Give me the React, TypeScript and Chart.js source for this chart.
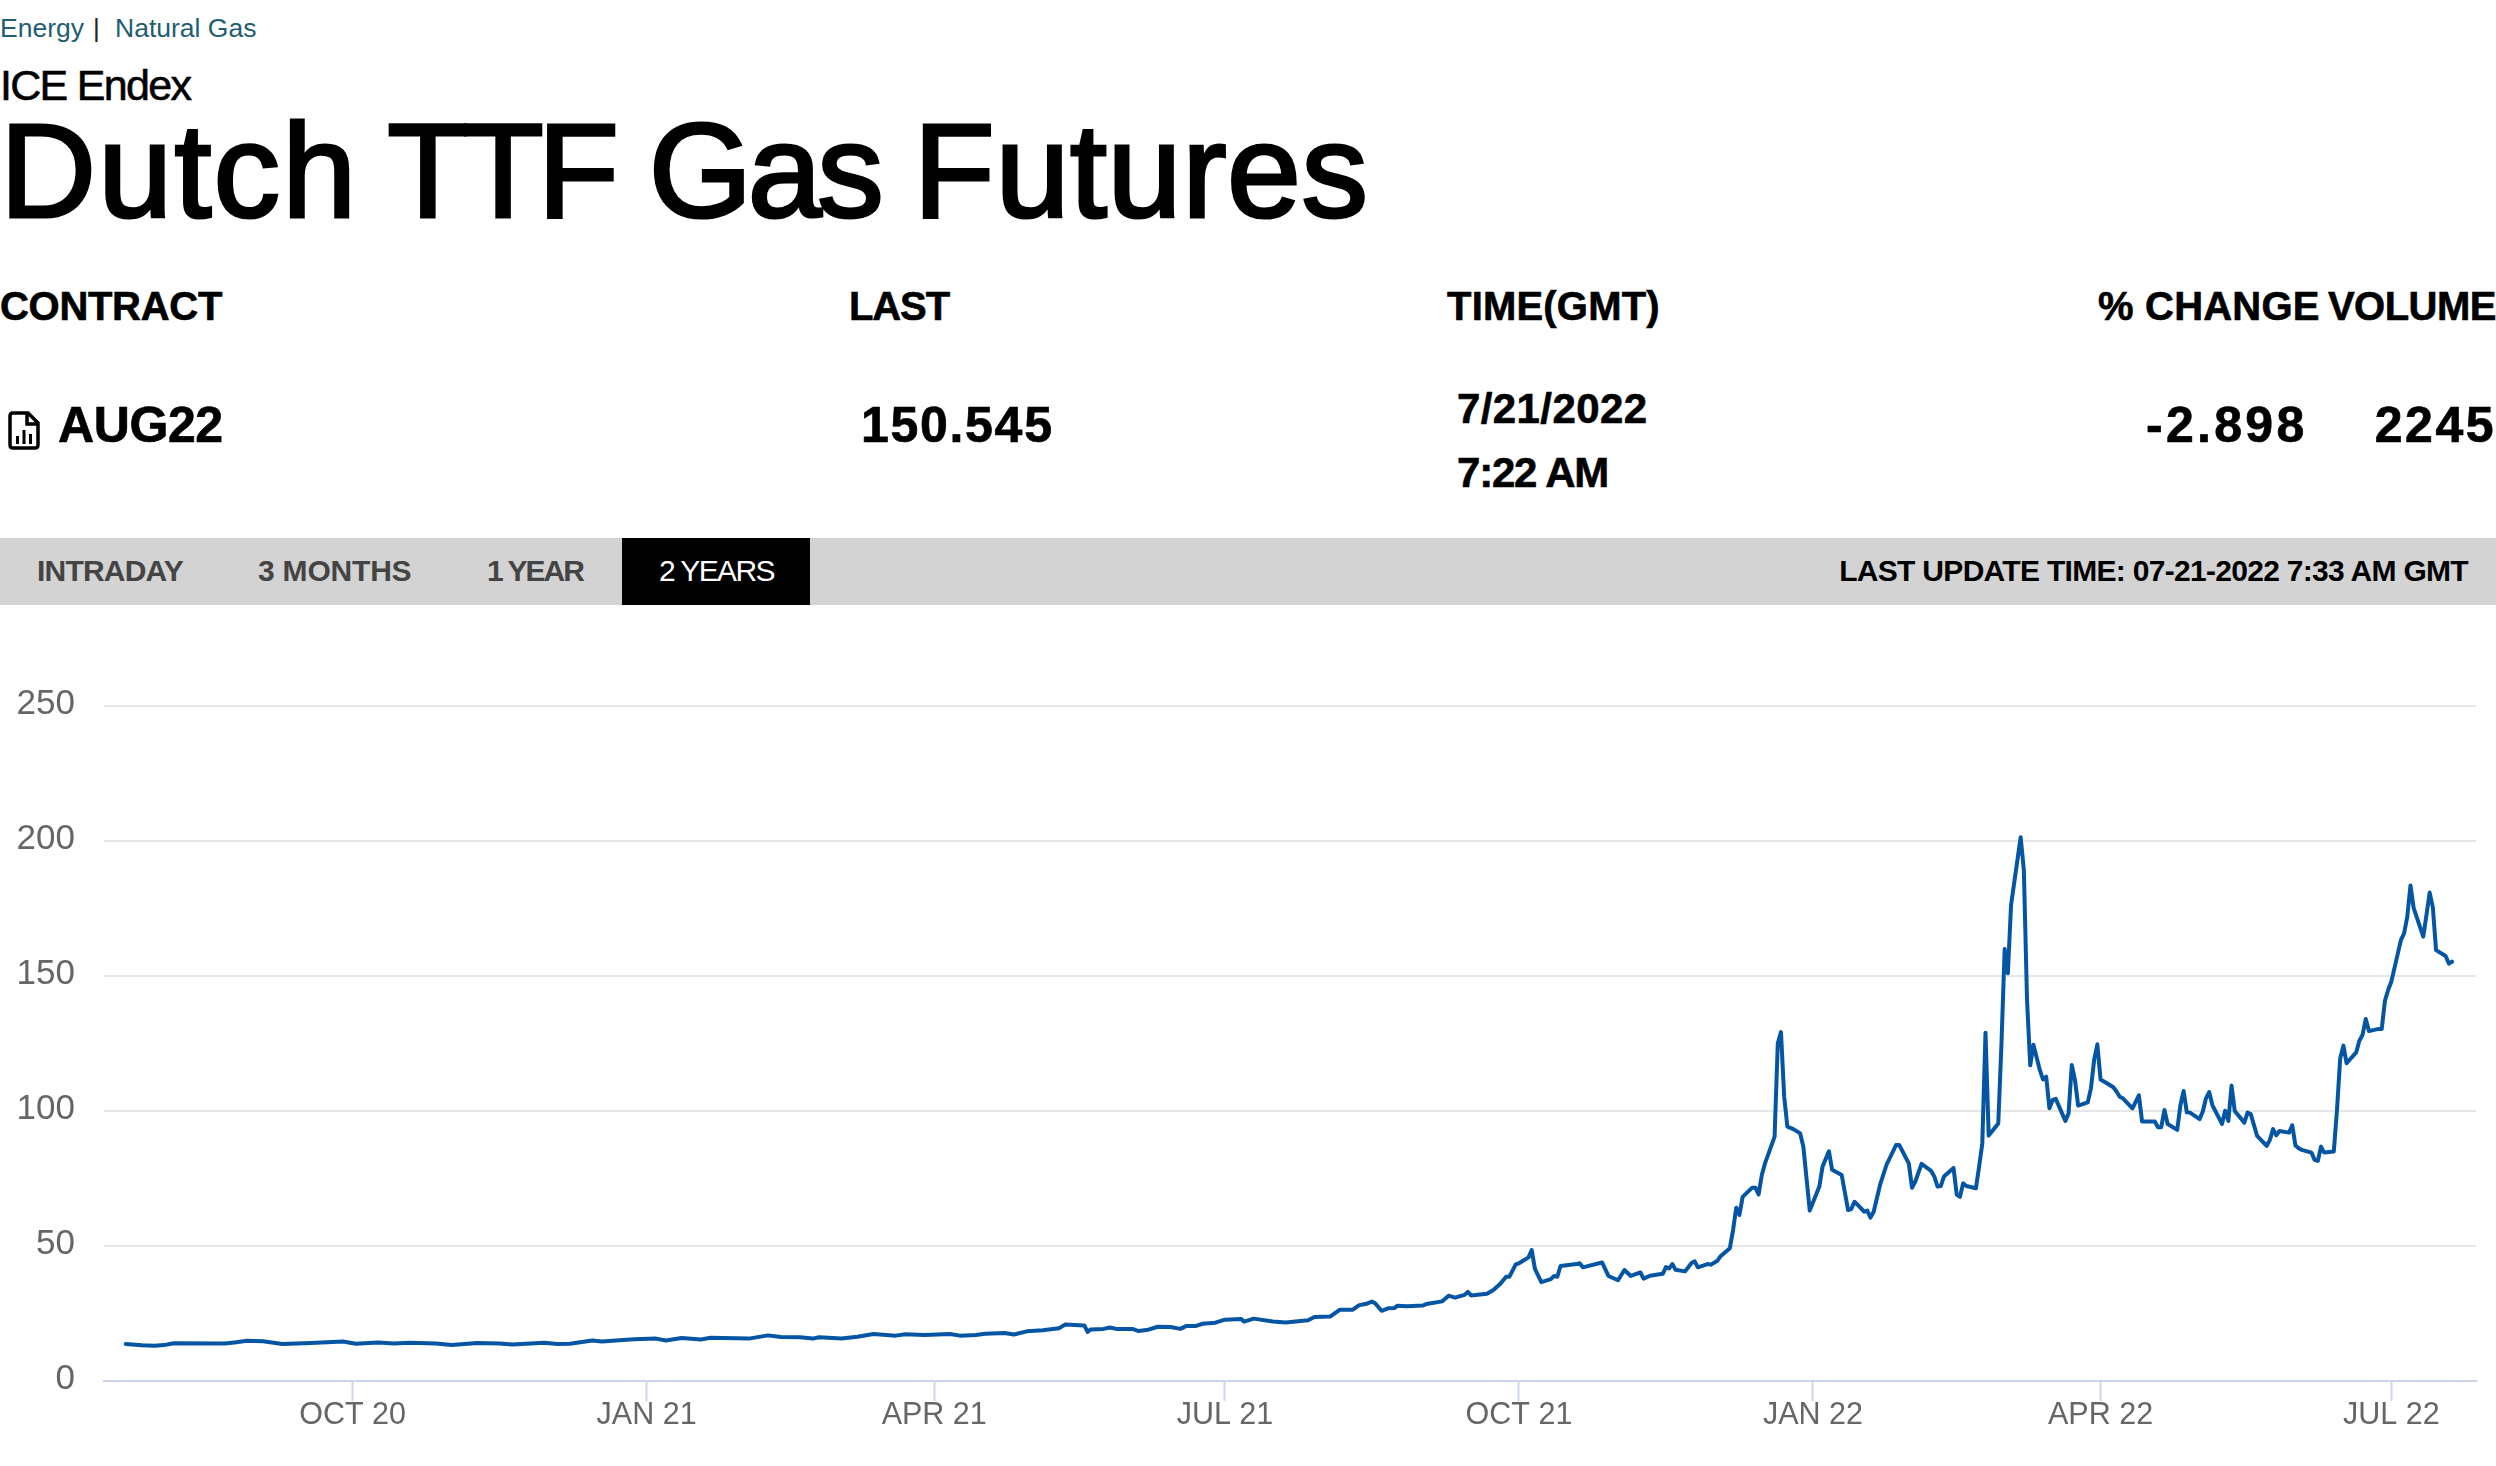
import React, { useEffect, useRef } from "react";
import { Chart, registerables } from "chart.js";

Chart.register(...registerables);

const breadcrumb = ["Energy", "Natural Gas"];
const exchange = "ICE Endex";
const titleWords = ["Dutch", "TTF", "Gas", "Futures"];
const tabs = ["INTRADAY", "3 MONTHS", "1 YEAR", "2 YEARS"];
const lastUpdate = "LAST UPDATE TIME: 07-21-2022 7:33 AM GMT";

// Days since 1 Oct 2020
const days = [
  -71, -66, -62, -59, -56, -40, -37, -33, -28, -22, -13, -3, 1, 8, 13, 18, 26, 31, 36, 39, 46, 50, 60, 64, 68, 75, 78, 88, 95, 98,
  103, 109, 112, 124, 130, 134, 140, 144, 146, 153, 158, 163, 170, 173, 179, 187, 190, 195, 198, 204, 207, 211, 216, 221, 223, 229, 230, 231, 235, 237,
  239, 244, 246, 249, 252, 256, 259, 261, 264, 266, 270, 273, 278, 279, 282, 288, 292, 299, 301, 306, 309, 313, 315, 317, 319, 320, 322, 324, 326, 327,
  330, 335, 336, 341, 343, 345, 348, 349, 350, 355, 357, 359, 361, 362, 364, 365, 368, 369, 370, 372, 375, 376, 377, 378, 383, 384, 385, 391, 393, 396,
  398, 400, 403, 404, 406, 410, 411, 412, 413, 414, 417, 419, 420, 421, 424, 425, 427, 428, 431, 432, 433, 434, 435, 438, 439, 440, 441, 442, 445, 446,
  447, 448, 449, 451, 453, 454, 456, 459, 460, 462, 463, 466, 468, 469, 470, 472, 473, 474, 475, 476, 478, 480, 483, 484, 487, 488, 489, 491, 494, 495,
  496, 497, 498, 501, 502, 503, 504, 505, 508, 509, 510, 511, 512, 515, 516, 517, 518, 519, 522, 523, 524, 525, 526, 528, 529, 530, 531, 532, 533, 536,
  537, 538, 539, 540, 543, 544, 545, 546, 547, 549, 551, 552, 553, 554, 557, 559, 560, 564, 565, 566, 567, 568, 571, 572, 573, 574, 575, 578, 579, 580,
  581, 582, 585, 586, 587, 588, 589, 592, 593, 594, 596, 599, 600, 601, 602, 603, 606, 607, 608, 609, 610, 613, 614, 615, 616, 617, 620, 621, 622, 623,
  624, 627, 628, 629, 630, 631, 634, 635, 636, 637, 638, 641, 642, 643, 644, 645, 648, 649, 650, 651, 652, 655, 656, 657,
];

const prices = [
  13.7, 13.2, 13.1, 13.3, 14.0, 13.9, 14.3, 14.9, 14.7, 13.7, 14.1, 14.6, 13.8, 14.3, 13.9, 14.2, 13.9, 13.3, 13.8, 14.1, 13.9, 13.5, 14.2, 13.7, 13.8, 15.0, 14.6, 15.5, 15.7, 15.0,
  15.9, 15.4, 16.0, 15.7, 16.9, 16.3, 16.2, 15.7, 16.2, 15.7, 16.4, 17.4, 16.8, 17.3, 17.0, 17.4, 16.8, 17.0, 17.5, 17.8, 17.2, 18.4, 18.8, 19.5, 20.9, 20.6, 18.2, 19.1, 19.3, 19.8,
  19.3, 19.3, 18.5, 19.0, 20.1, 20.0, 19.3, 20.4, 20.4, 21.2, 21.6, 22.7, 23.0, 22.0, 23.1, 22.0, 21.7, 22.5, 23.7, 23.9, 26.4, 26.4, 28.1, 28.5, 29.4, 28.8, 26.0, 26.9, 27.0, 27.9,
  27.7, 28.0, 28.5, 29.5, 31.6, 30.9, 31.9, 33.0, 31.7, 32.3, 33.7, 35.8, 38.6, 38.6, 43.2, 43.6, 45.8, 48.5, 41.5, 36.6, 37.7, 38.9, 38.6, 42.6, 43.3, 43.6, 42.1, 43.9, 38.9, 37.3,
  41.1, 38.9, 40.2, 37.9, 39.0, 39.7, 42.2, 41.7, 43.3, 41.2, 40.6, 43.7, 44.3, 42.1, 43.3, 43.1, 44.4, 46.1, 49.2, 55.9, 64.2, 61.5, 68.2, 71.6, 71.6, 69.1, 76.3, 80.6, 90.5, 125.1,
  129.2, 105.3, 94.2, 93.2, 91.7, 86.8, 63.1, 72.0, 79.4, 85.1, 78.2, 76.3, 63.3, 63.7, 66.4, 64.0, 62.7, 63.1, 60.5, 62.7, 72.6, 80.0, 87.4, 87.4, 80.6, 71.6, 73.8, 80.4, 77.8, 75.7,
  72.0, 72.2, 75.7, 78.9, 69.0, 68.2, 73.2, 72.2, 71.4, 79.4, 88.0, 129.0, 90.9, 95.4, 125.0, 160.0, 151.0, 176.3, 201.4, 189.3, 141.1, 116.9, 124.5, 115.2, 111.7, 112.7, 101.0, 104.1, 104.5, 96.3,
  99.2, 117.0, 111.5, 102.0, 103.2, 108.4, 118.9, 124.7, 111.7, 110.3, 108.8, 107.2, 105.3, 104.7, 101.0, 105.8, 96.1, 96.1, 94.0, 94.0, 100.4, 95.2, 93.0, 102.2, 107.4, 99.5, 99.4, 97.0, 99.8, 104.7,
  107.0, 102.2, 95.2, 100.1, 96.3, 109.4, 100.0, 95.7, 99.4, 98.9, 90.8, 87.1, 89.3, 93.3, 91.0, 92.6, 92.0, 94.7, 87.2, 86.2, 85.6, 84.6, 81.9, 81.5, 86.8, 84.6, 85.0, 100.4, 119.5, 124.2,
  117.7, 121.7, 126.0, 128.2, 134.1, 129.6, 130.4, 130.4, 140.8, 144.8, 147.9, 163.3, 165.8, 172.0, 183.5, 175.1, 164.6, 172.6, 180.9, 175.3, 159.6, 157.4, 154.6, 155.3,
];

const xTickDays = [0, 92, 182, 273, 365, 457, 547, 638];
const xTickLabels = ["OCT 20", "JAN 21", "APR 21", "JUL 21", "OCT 21", "JAN 22", "APR 22", "JUL 22"];
const yTickValues = [0, 50, 100, 150, 200, 250];

const SANS = '"Liberation Sans", Arial, sans-serif';

function T(p: { x?: number; right?: number; base: number; size: number; weight?: number; color?: string; ls?: number; stroke?: number; children: React.ReactNode }) {
  const color = p.color ?? "#000";
  const style: React.CSSProperties = {
    position: "absolute",
    top: p.base - 0.8465 * p.size,
    fontFamily: SANS,
    fontSize: p.size,
    lineHeight: 1,
    fontWeight: p.weight ?? 400,
    color,
    letterSpacing: p.ls ?? 0,
    whiteSpace: "nowrap",
    WebkitTextStroke: p.stroke ? `${p.stroke}px ${color}` : undefined,
  };
  if (p.right !== undefined) style.right = 2496 - p.right;
  else style.left = p.x;
  return <div style={style}>{p.children}</div>;
}

export default function App() {
  const ref = useRef<HTMLCanvasElement>(null);

  useEffect(() => {
    const chart = new Chart(ref.current!, {
      type: "line",
      data: {
        datasets: [
          {
            data: days.map((d, i) => ({ x: d, y: prices[i] })),
            borderColor: "#0455a4",
            borderWidth: 4,
            pointRadius: 0,
            tension: 0,
            borderJoinStyle: "round",
            borderCapStyle: "round",
            fill: false,
          },
        ],
      },
      options: {
        animation: false,
        responsive: false,
        devicePixelRatio: 1,
        layout: { padding: { top: 56, right: 20, left: 0, bottom: 0 } },
        plugins: { legend: { display: false }, tooltip: { enabled: false } },
        scales: {
          x: {
            type: "linear",
            min: -77.8,
            max: 664.5,
            afterFit: (s: any) => {
              s.height = 85;
            },
            afterBuildTicks: (s: any) => {
              s.ticks = xTickDays.map((value) => ({ value }));
            },
            grid: {
              drawOnChartArea: false,
              drawTicks: true,
              tickLength: 20,
              tickColor: "#ccd6eb",
              tickWidth: 2,
            },
            border: { display: true, color: "#ccd6eb", width: 2 },
            ticks: {
              autoSkip: false,
              maxRotation: 0,
              minRotation: 0,
              padding: -4,
              color: "#666666",
              font: { family: SANS, size: 30.5 },
              callback: (v: any) => xTickLabels[xTickDays.indexOf(v)],
            },
          },
          y: {
            type: "linear",
            min: 0,
            max: 250,
            afterFit: (s: any) => {
              s.width = 104;
            },
            afterBuildTicks: (s: any) => {
              s.ticks = yTickValues.map((value) => ({ value }));
            },
            grid: { color: "#e6e6e6", lineWidth: 2, drawTicks: false },
            border: { display: false },
            ticks: {
              padding: 29,
              labelOffset: -2,
              color: "#666666",
              font: { family: SANS, size: 35 },
            },
          },
        },
      },
    } as any);
    return () => chart.destroy();
  }, []);

  return (
    <div style={{ position: "absolute", left: 0, top: 0, width: 2496, height: 1466, overflow: "hidden", background: "#fff" }}>
      <T x={0} base={37} size={26.5} color="#1f5d73">{breadcrumb[0]}</T>
      <T x={93} base={37} size={26} color="#222">|</T>
      <T x={115} base={37} size={26.5} color="#1f5d73">{breadcrumb[1]}</T>
      <T x={0} base={100} size={43} ls={-1.7} stroke={0.6}>{exchange}</T>
      <T x={0} base={218} size={133} ls={-1.2} stroke={3.2}>
        <span style={{ letterSpacing: 2.2 }}>{titleWords[0]}</span>{" "}
        <span style={{ letterSpacing: -6, marginLeft: -7 }}>{titleWords[1]}</span>{" "}
        <span style={{ letterSpacing: -4.4 }}>{titleWords[2]}</span>{" "}
        <span style={{ letterSpacing: 0.6, marginLeft: -1.6 }}>{titleWords[3]}</span>
      </T>

      <T x={0} base={320} size={40} weight={700} ls={-0.3} stroke={0.6}>CONTRACT</T>
      <T x={849} base={320} size={40} weight={700} ls={-1.1} stroke={0.6}>LAST</T>
      <T x={1447} base={320} size={40} weight={700} ls={0.2} stroke={0.6}>TIME(GMT)</T>
      <T x={2098} base={320} size={40} weight={700} ls={0.2} stroke={0.6}>% CHANGE</T>
      <T right={2496} base={320} size={40} weight={700} ls={-0.5} stroke={0.6}>VOLUME</T>

      <svg style={{ position: "absolute", left: 8, top: 411 }} width={32} height={39} viewBox="0 0 32 39">
        <path d="M3 2 H20 L30 12 V34 Q30 37 27 37 H5 Q2 37 2 34 V5 Q2 2 5 2 Z" fill="none" stroke="#000" strokeWidth={3.5} />
        <path d="M19 3 V13 H29" fill="none" stroke="#000" strokeWidth={3.5} />
        <rect x={8} y={25} width={3} height={8} fill="#000" />
        <rect x={14.5} y={19} width={3} height={14} fill="#000" />
        <rect x={21} y={23} width={3} height={10} fill="#000" />
      </svg>
      <T x={58} base={442} size={50} weight={700} ls={-0.4} stroke={0.7}>AUG22</T>
      <T x={861} base={442} size={50} weight={700} ls={1.7} stroke={0.7}>150.545</T>
      <T x={1457} base={424} size={42} weight={700} ls={0.4} stroke={0.6}>7/21/2022</T>
      <T x={1457} base={488} size={42} weight={700} ls={-1.2} stroke={0.6}>7:22 AM</T>
      <T x={2146} base={442} size={50} weight={700} ls={3.3} stroke={0.7}>-2.898</T>
      <T right={2496} base={442} size={50} weight={700} ls={2.5} stroke={0.7}>2245</T>

      <div style={{ position: "absolute", left: 0, top: 538, width: 2496, height: 67, background: "#d3d3d3" }} />
      <div style={{ position: "absolute", left: 622, top: 538, width: 188, height: 67, background: "#000" }} />
      <T x={37} base={581} size={30} weight={700} color="#444" ls={-0.8}>{tabs[0]}</T>
      <T x={258} base={581} size={30} weight={700} color="#444" ls={-0.2}>{tabs[1]}</T>
      <T x={487} base={581} size={30} weight={700} color="#444" ls={-2}>{tabs[2]}</T>
      <T x={659} base={581} size={30} color="#fff" ls={-1.6}>{tabs[3]}</T>
      <T right={2468} base={581} size={30} weight={700} ls={-0.7}>{lastUpdate}</T>

      <canvas ref={ref} width={2496} height={816} style={{ position: "absolute", left: 0, top: 650, width: 2496, height: 816 }} />
    </div>
  );
}
